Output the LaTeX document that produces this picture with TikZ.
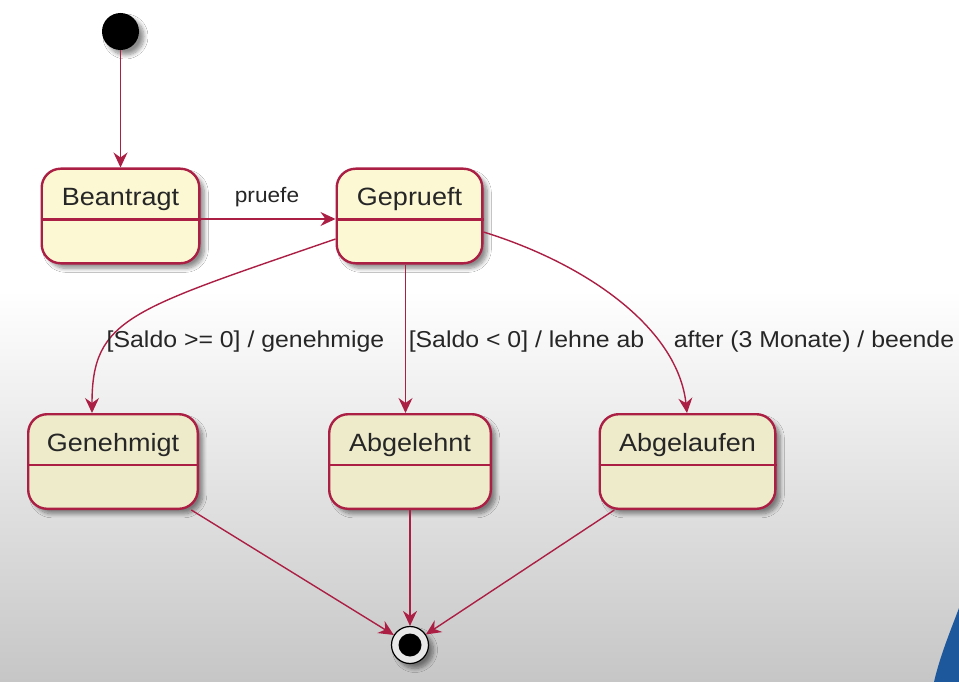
\documentclass[tikz,border=0pt]{standalone}
\usepackage{fontspec}
\setmainfont[FakeStretch=1.08]{Liberation Sans}
\usetikzlibrary{arrows.meta,shadows.blur}
\definecolor{crim}{HTML}{AC1F45}
\definecolor{stfill}{HTML}{FCF8D4}
\definecolor{stfillb}{HTML}{EEEBCB}
\definecolor{txt}{HTML}{262626}
\definecolor{blu}{RGB}{30,88,156}
\definecolor{bggray}{RGB}{198,198,198}
\definecolor{ringfill}{RGB}{232,232,232}
\begin{document}
\begin{tikzpicture}[x=1pt,y=-1pt,
  shd/.style={blur shadow={shadow xshift=5pt, shadow yshift=-5pt, shadow blur radius=4pt, shadow blur steps=8, shadow opacity=45}},
  stbox/.style={draw=crim, line width=2.4pt, rounded corners=19pt, fill=stfill,
    minimum height=94.6pt, text height=20pt, text depth=41pt, inner sep=0pt,
    font=\fontsize{25}{30}\selectfont, text=txt, shd},
  elabel/.style={font=\fontsize{23}{28}\selectfont, text=txt, anchor=base, inner sep=0pt},
  conn/.style={draw=crim, line width=1.4pt, -{Stealth[length=15pt,width=14pt,inset=5pt]}},
  divider/.style={draw=crim, line width=2.4pt},
]
% background
\fill[white] (0,0) rectangle (959,682);
\shade[top color=white, bottom color=bggray] (0,290) rectangle (959,682);
\useasboundingbox (0,0) rectangle (959,682);
\fill[blu] (959,608) .. controls (950,632) and (940,656) .. (934,682) -- (959,682) -- cycle;

% states
\node[circle, fill=black, minimum size=37pt, inner sep=0pt, shd] (I) at (120.5,31.5) {};
\node[stbox, minimum width=157.6pt] (B) at (120.5,216) {Beantragt};
\node[stbox, minimum width=145.6pt] (G) at (409.5,216) {Geprueft};
\node[stbox, fill=stfillb, minimum width=169.6pt] (Gen) at (113,461.5) {Genehmigt};
\node[stbox, fill=stfillb, minimum width=161.6pt] (Abl) at (410,461.5) {Abgelehnt};
\node[stbox, fill=stfillb, minimum width=175.6pt] (Abf) at (687.5,461.5) {Abgelaufen};
\node[circle, draw=black, line width=1.2pt, fill=ringfill, minimum size=37pt, inner sep=0pt, shd] (F) at (410,645) {};
\node[circle, fill=black, minimum size=23pt, inner sep=0pt] (Fin) at (F) {};

% dividers
\foreach \n in {B,G,Gen,Abl,Abf}{
  \draw[divider] ([yshift=-52pt]\n.north west) -- ([yshift=-52pt]\n.north east);
}

% transitions
\draw[conn] (I) -- (B);
\draw[conn] ([yshift=-3pt]B.east) -- ([yshift=-3pt]G.west);
\draw[conn] ([yshift=-23pt]G.west) .. controls (130,310) and (92,318) .. ([xshift=-21pt]Gen.north);
\draw[conn] ([xshift=-4pt]G.south) -- ([xshift=-4.5pt]Abl.north);
\draw[conn] ([yshift=-16pt]G.east) .. controls (590,265) and (678,330) .. ([xshift=-0.5pt]Abf.north);
\draw[conn] (Gen) -- (F);
\draw[conn] (Abl) -- (F);
\draw[conn] (Abf) -- (F);

% labels
\node[elabel, font=\fontsize{21}{26}\selectfont] (lp) at (267,202) {pruefe};
\node[elabel] (l1) at (245.5,347) {[Saldo >= 0] / genehmige};
\node[elabel] (l2) at (526.5,347) {[Saldo < 0] / lehne ab};
\node[elabel] (l3) at (814,347) {after (3 Monate) / beende};
\end{tikzpicture}
\end{document}
